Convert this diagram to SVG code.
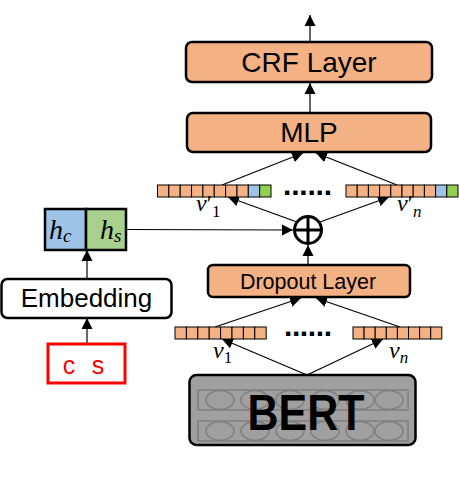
<svg xmlns="http://www.w3.org/2000/svg" width="459" height="481" viewBox="0 0 459 481">
<defs>
<marker id="arr" markerUnits="userSpaceOnUse" markerWidth="12" markerHeight="12" refX="11" refY="6" orient="auto"><path d="M0,0.5 L11,6 L0,11.5 z" fill="#000"/></marker>
<style>
.box{fill:#f4b183;stroke:#000;stroke-width:2.5}
.lbl{font-family:"Liberation Sans",Arial,sans-serif;fill:#000;text-anchor:middle}
.c{stroke:#000;stroke-width:1.2;fill:none}
.a{stroke:#000;stroke-width:1.2;fill:none;marker-end:url(#arr)}
.o{fill:#f4b183;stroke:#000;stroke-width:1}
.b{fill:#9dc3e6;stroke:#000;stroke-width:1}
.g{fill:#92d050;stroke:#000;stroke-width:1}
.m{font-family:"Liberation Serif","Times New Roman",serif;font-style:italic;fill:#000}
.dots{font-family:"Liberation Sans",Arial,sans-serif;font-weight:bold;fill:#000}
.e{fill:none;stroke:#7f7f7f;stroke-width:1.5}
</style>
</defs>
<rect width="459" height="481" fill="#fff"/>

<g id="connectors">
<line class="a" x1="310" y1="42" x2="310" y2="15"/>
<line class="a" x1="310" y1="113" x2="310" y2="83"/>
<line class="a" x1="222" y1="185" x2="303" y2="153"/>
<line class="a" x1="397" y1="185" x2="316" y2="153"/>
<line class="a" x1="297" y1="222" x2="228" y2="197"/>
<line class="a" x1="320" y1="222" x2="389" y2="197"/>
<line class="a" x1="126" y1="229.5" x2="293" y2="230"/>
<line class="a" x1="308" y1="265" x2="308" y2="245"/>
<line class="a" x1="215" y1="327" x2="301" y2="298"/>
<line class="a" x1="400" y1="327" x2="316" y2="298"/>
<line class="a" x1="307" y1="375" x2="222" y2="339"/>
<line class="a" x1="307" y1="375" x2="383" y2="339"/>
<line class="a" x1="87" y1="279" x2="87" y2="250"/>
<line class="a" x1="87" y1="344" x2="87" y2="318"/>
</g>

<g id="crf">
<rect class="box" x="186" y="42" width="246" height="40" rx="6"/>
<text class="lbl" x="309" y="72" font-size="28">CRF Layer</text>
</g>

<g id="mlp">
<rect class="box" x="187" y="113" width="244" height="39" rx="6"/>
<text class="lbl" x="309" y="142" font-size="28">MLP</text>
</g>

<g id="vprime1">
<rect class="o" x="157.5" y="185" width="11.35" height="12"/>
<rect class="o" x="168.85" y="185" width="11.35" height="12"/>
<rect class="o" x="180.2" y="185" width="11.35" height="12"/>
<rect class="o" x="191.55" y="185" width="11.35" height="12"/>
<rect class="o" x="202.9" y="185" width="11.35" height="12"/>
<rect class="o" x="214.25" y="185" width="11.35" height="12"/>
<rect class="o" x="225.6" y="185" width="11.35" height="12"/>
<rect class="o" x="236.95" y="185" width="11.35" height="12"/>
<rect class="b" x="248.3" y="185" width="11.35" height="12"/>
<rect class="g" x="259.65" y="185" width="11.35" height="12"/>
<text class="m" x="196" y="211" font-size="24">v<tspan font-style="normal">′</tspan><tspan font-style="normal" font-size="17" dy="6">1</tspan></text>
</g>

<g id="vprimen">
<rect class="o" x="346" y="185" width="11.2" height="12"/>
<rect class="o" x="357.2" y="185" width="11.2" height="12"/>
<rect class="o" x="368.4" y="185" width="11.2" height="12"/>
<rect class="o" x="379.6" y="185" width="11.2" height="12"/>
<rect class="o" x="390.8" y="185" width="11.2" height="12"/>
<rect class="o" x="402" y="185" width="11.2" height="12"/>
<rect class="o" x="413.2" y="185" width="11.2" height="12"/>
<rect class="o" x="424.4" y="185" width="11.2" height="12"/>
<rect class="b" x="435.6" y="185" width="11.2" height="12"/>
<rect class="g" x="446.8" y="185" width="11.2" height="12"/>
<text class="m" x="397" y="211" font-size="24">v<tspan font-style="normal">′</tspan><tspan font-size="17" dy="6">n</tspan></text>
</g>

<text class="dots" x="283" y="195" font-size="30" textLength="49" lengthAdjust="spacing">......</text>

<g id="oplus">
<circle cx="308" cy="230" r="13.5" fill="#fff" stroke="#000" stroke-width="3"/>
<line x1="294.5" y1="230" x2="321.5" y2="230" stroke="#000" stroke-width="3"/>
<line x1="308" y1="216.5" x2="308" y2="243.5" stroke="#000" stroke-width="3"/>
</g>

<g id="hcs">
<rect x="45" y="209" width="41" height="41" fill="#9dc3e6" stroke="#000" stroke-width="2.5"/>
<rect x="86" y="209" width="40" height="41" fill="#a9d18e" stroke="#000" stroke-width="2.5"/>
<text class="m" x="49" y="239" font-size="28">h<tspan font-size="19" dy="3">c</tspan></text>
<text class="m" x="100" y="239" font-size="28">h<tspan font-size="19" dy="3">s</tspan></text>
</g>

<g id="embedding">
<rect x="1.5" y="279" width="170" height="39" rx="6" fill="#fff" stroke="#000" stroke-width="2.5"/>
<text class="lbl" x="86.5" y="307" font-size="26">Embedding</text>
</g>

<g id="cs">
<rect x="48" y="344" width="77" height="39" fill="#fff" stroke="#ff0000" stroke-width="3"/>
<text x="69" y="374" font-family="'Liberation Sans',Arial,sans-serif" font-size="25" fill="#ff0000" text-anchor="middle">c</text>
<text x="98" y="374" font-family="'Liberation Sans',Arial,sans-serif" font-size="25" fill="#ff0000" text-anchor="middle">s</text>
</g>

<g id="dropout">
<rect class="box" x="208" y="265" width="202" height="32" rx="5"/>
<text class="lbl" x="308" y="288.5" font-size="21.5">Dropout Layer</text>
</g>

<g id="v1">
<rect class="o" x="175" y="327" width="11.4" height="12"/>
<rect class="o" x="186.4" y="327" width="11.4" height="12"/>
<rect class="o" x="197.8" y="327" width="11.4" height="12"/>
<rect class="o" x="209.2" y="327" width="11.4" height="12"/>
<rect class="o" x="220.6" y="327" width="11.4" height="12"/>
<rect class="o" x="232" y="327" width="11.4" height="12"/>
<rect class="o" x="243.4" y="327" width="11.4" height="12"/>
<rect class="o" x="254.8" y="327" width="11.4" height="12"/>
<text class="m" x="213" y="358" font-size="24">v<tspan font-style="normal" font-size="17" dy="5">1</tspan></text>
</g>

<g id="vn">
<rect class="o" x="353" y="327" width="11.1" height="12"/>
<rect class="o" x="364.1" y="327" width="11.1" height="12"/>
<rect class="o" x="375.2" y="327" width="11.1" height="12"/>
<rect class="o" x="386.3" y="327" width="11.1" height="12"/>
<rect class="o" x="397.4" y="327" width="11.1" height="12"/>
<rect class="o" x="408.5" y="327" width="11.1" height="12"/>
<rect class="o" x="419.6" y="327" width="11.1" height="12"/>
<rect class="o" x="430.7" y="327" width="11.1" height="12"/>
<text class="m" x="389" y="358" font-size="24">v<tspan font-size="17" dy="5">n</tspan></text>
</g>

<text class="dots" x="284" y="336" font-size="30" textLength="48" lengthAdjust="spacing">......</text>

<g id="bert">
<rect x="189.5" y="375" width="226" height="70" rx="7" fill="#a0a0a0" stroke="#000" stroke-width="2.5"/>
<rect x="198" y="390" width="210" height="20" fill="none" stroke="#7f7f7f" stroke-width="1.5"/>
<rect x="198" y="421" width="210" height="20" fill="none" stroke="#7f7f7f" stroke-width="1.5"/>
<ellipse class="e" cx="220" cy="400" rx="14" ry="9.5"/>
<ellipse class="e" cx="255" cy="400" rx="14" ry="9.5"/>
<ellipse class="e" cx="290" cy="400" rx="14" ry="9.5"/>
<ellipse class="e" cx="325" cy="400" rx="14" ry="9.5"/>
<ellipse class="e" cx="360" cy="400" rx="14" ry="9.5"/>
<ellipse class="e" cx="389" cy="400" rx="14" ry="9.5"/>
<ellipse class="e" cx="220" cy="431" rx="14" ry="9.5"/>
<ellipse class="e" cx="255" cy="431" rx="14" ry="9.5"/>
<ellipse class="e" cx="290" cy="431" rx="14" ry="9.5"/>
<ellipse class="e" cx="325" cy="431" rx="14" ry="9.5"/>
<ellipse class="e" cx="360" cy="431" rx="14" ry="9.5"/>
<ellipse class="e" cx="389" cy="431" rx="14" ry="9.5"/>
<text x="306" y="430" font-family="'Liberation Sans',Arial,sans-serif" font-weight="bold" font-size="50" text-anchor="middle" textLength="117" lengthAdjust="spacingAndGlyphs" fill="#000">BERT</text>
</g>
</svg>
